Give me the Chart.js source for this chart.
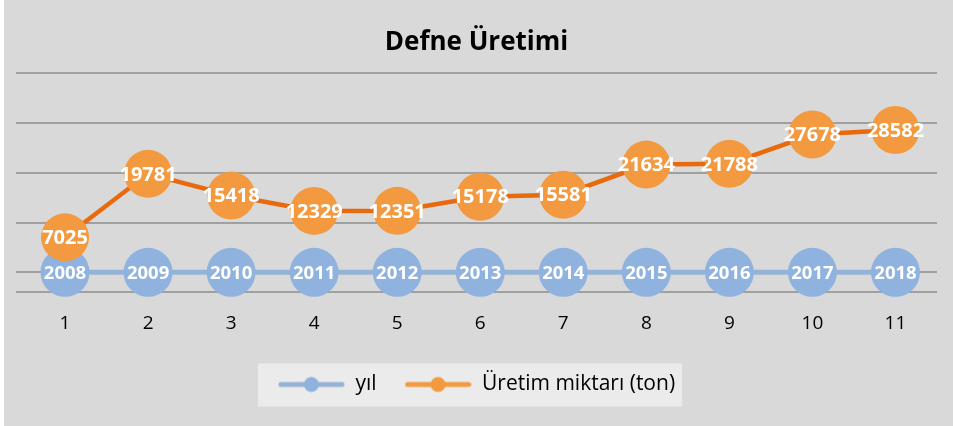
<!DOCTYPE html>
<html>
<head>
<meta charset="utf-8">
<script src="https://cdn.jsdelivr.net/npm/chart.js@4"></script>
<style>
  body { margin: 0; background: #fff; }
  #wrap { position: absolute; left: 4px; top: 0; width: 949px; height: 426px; background: #d9d9d9; }
</style>
</head>
<body>
<div id="wrap"><canvas id="line-chart"></canvas></div>
<script>
// category labels on the x axis
const categories = ["1", "2", "3", "4", "5", "6", "7", "8", "9", "10", "11"];
// "yıl" was typed as text in the sheet, so every point sits on 0 and only the label shows the year
const years = ["2008", "2009", "2010", "2011", "2012", "2013", "2014", "2015", "2016", "2017", "2018"];
const yilValues = [0, 0, 0, 0, 0, 0, 0, 0, 0, 0, 0];
const uretim = [7025, 19781, 15418, 12329, 12351, 15178, 15581, 21634, 21788, 27678, 28582];
const yTicks = [-4000, 0, 10000, 20000, 30000, 40000];

const FONT = "'Open Sans', 'Noto Sans', sans-serif";

// line + dot sample for the legend
function legendSample(lineColor, dotColor) {
  let c = document.createElement("canvas");
  c.width = 67;
  c.height = 20;
  let g = c.getContext("2d");
  g.strokeStyle = lineColor;
  g.lineWidth = 5;
  g.lineCap = "round";
  g.beginPath();
  g.moveTo(3, 10);
  g.lineTo(64, 10);
  g.stroke();
  g.fillStyle = dotColor;
  g.beginPath();
  g.arc(33.5, 10, 7.5, 0, Math.PI * 2);
  g.fill();
  return c;
}

// white labels centred in each dot
const pointLabels = {
  id: "pointLabels",
  afterDatasetsDraw(chart) {
    const ctx = chart.ctx;
    ctx.save();
    ctx.fillStyle = "#ffffff";
    ctx.textAlign = "center";
    ctx.textBaseline = "middle";
    chart.data.datasets.forEach((ds, i) => {
      const meta = chart.getDatasetMeta(i);
      ctx.font = "bold " + ds.labelSize + "px " + FONT;
      meta.data.forEach((pt, j) => {
        ctx.fillText(ds.labelTexts[j], pt.x, pt.y + 1);
      });
    });
    ctx.restore();
  }
};

// light panel behind the legend
const legendPanel = {
  id: "legendPanel",
  beforeDraw(chart) {
    const boxes = chart.legend.legendHitBoxes;
    if (!boxes || !boxes.length) return;
    const first = boxes[0];
    const last = boxes[boxes.length - 1];
    const cy = first.top + first.height / 2;
    const ctx = chart.ctx;
    ctx.save();
    ctx.fillStyle = "#ebebeb";
    ctx.fillRect(first.left - 20, cy - 21, last.left + last.width + 7 - (first.left - 20), 43);
    ctx.restore();
  }
};

let config = {
  type: "line",
  data: {
    labels: categories,
    datasets: [
      {
        label: "yıl",
        data: yilValues,
        labelTexts: years,
        labelSize: 18.5,
        borderColor: "#95b3d7",
        backgroundColor: "#8fb2df",
        pointBackgroundColor: "#8fb2df",
        pointBorderWidth: 0,
        borderWidth: 5,
        pointRadius: 24.5,
        pointHoverRadius: 24.5,
        clip: false,
        order: 1,
        legendImg: legendSample("#95b3d7", "#8fb2df")
      },
      {
        label: "Üretim miktarı (ton)",
        data: uretim,
        labelTexts: uretim.map(String),
        labelSize: 20,
        borderColor: "#e86a0c",
        backgroundColor: "#f39a40",
        pointBackgroundColor: "#f39a40",
        pointBorderWidth: 0,
        borderWidth: 4.5,
        pointRadius: 24,
        pointHoverRadius: 24,
        clip: false,
        order: 0,
        legendImg: legendSample("#f39a40", "#f39a40")
      }
    ]
  },
  options: {
    responsive: true,
    maintainAspectRatio: false,
    animation: false,
    layout: { autoPadding: false, padding: { left: 12, right: 16, top: 0, bottom: 21 } },
    scales: {
      x: {
        offset: true,
        grid: { display: false, drawTicks: false },
        border: { display: false },
        ticks: { color: "#000", padding: 20, font: { family: FONT, size: 19 } },
        // labels stay put, the legend just sits a bit closer
        afterFit: (axis) => { axis.height -= 9; }
      },
      y: {
        min: yTicks[0],
        max: yTicks[yTicks.length - 1],
        afterBuildTicks: (axis) => { axis.ticks = yTicks.map(v => ({ value: v })); },
        // short tick marks continue the grid lines a little to the left
        grid: { color: "#a0a0a0", lineWidth: 2, drawTicks: true, tickLength: 7.5 },
        border: { display: false },
        ticks: { display: false }
      }
    },
    plugins: {
      title: {
        display: true,
        text: "Defne Üretimi",
        color: "#000",
        font: { family: FONT, size: 26, weight: "bold" },
        padding: { top: 27, bottom: 15 }
      },
      legend: {
        position: "bottom",
        labels: {
          color: "#000",
          font: { family: FONT, size: 21 },
          padding: 28,
          usePointStyle: true,
          pointStyleWidth: 67,
          sort: (a, b) => a.datasetIndex - b.datasetIndex,
          generateLabels: (chart) => chart.data.datasets.map((ds, i) => ({
            text: ds.label,
            datasetIndex: i,
            pointStyle: ds.legendImg,
            fontColor: "#000",
            lineWidth: 0,
            hidden: false
          }))
        }
      },
      tooltip: { enabled: false }
    }
  },
  plugins: [pointLabels, legendPanel]
};

let ctx = document.getElementById("line-chart").getContext("2d");
window.myLine = new Chart(ctx, config);
</script>
</body>
</html>
